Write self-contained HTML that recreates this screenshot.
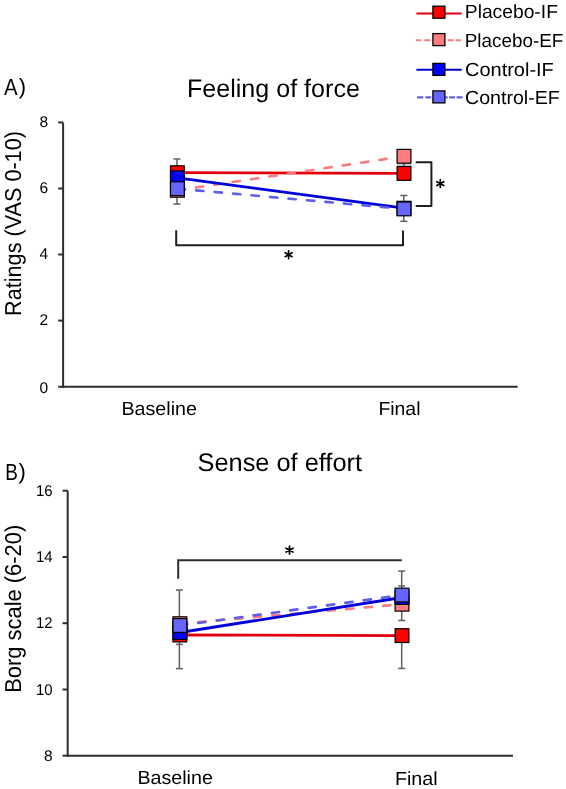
<!DOCTYPE html>
<html><head><meta charset="utf-8">
<style>
html,body{margin:0;padding:0;background:#fff;}
body{width:566px;height:789px;overflow:hidden;}
svg{display:block;will-change:transform;}
text{font-family:"Liberation Sans",sans-serif;fill:#000;text-rendering:geometricPrecision;}
</style></head>
<body>
<svg width="566" height="789" viewBox="0 0 566 789">
<rect x="0" y="0" width="566" height="789" fill="#fff"/>

<!-- Legend -->
<g>
  <line x1="416.4" y1="13.6" x2="461.7" y2="13.6" stroke="#E2000C" stroke-width="2"/>
  <path d="M415.8,40.2H421.1M424.3,40.2H430.1M447.6,40.2H453.5M455.6,40.2H460.9" stroke="#F77A80" stroke-width="2.1"/>
  <line x1="416.4" y1="69.8" x2="461.7" y2="69.8" stroke="#0000DA" stroke-width="2"/>
  <path d="M417.2,97.4H423.3M425.4,97.4H431.2M445.5,97.4H447.6M449.2,97.4H455M456.6,97.4H462.5" stroke="#5E5EEA" stroke-width="2.1"/>
  <g stroke="#000" stroke-width="1.3">
  <rect x="432.9" y="6.2" width="12" height="12" fill="#FF0000"/>
  <rect x="432.9" y="33.6" width="12" height="12" fill="#FF7C80"/>
  <rect x="432.9" y="63.4" width="12" height="12" fill="#0000FF"/>
  <rect x="432.9" y="90.9" width="12" height="12" fill="#6666FF"/>
  </g>
  <text x="464.8" y="17.8" font-size="19" textLength="93.1" lengthAdjust="spacingAndGlyphs">Placebo-IF</text>
  <text x="464.8" y="46.8" font-size="19" textLength="98.5" lengthAdjust="spacingAndGlyphs">Placebo-EF</text>
  <text x="465" y="76.0" font-size="19" textLength="88.8" lengthAdjust="spacingAndGlyphs">Control-IF</text>
  <text x="465" y="103.8" font-size="19" textLength="94.8" lengthAdjust="spacingAndGlyphs">Control-EF</text>
</g>

<!-- Chart A -->
<text x="3.9" y="94.7" font-size="23.3" textLength="13.6" lengthAdjust="spacingAndGlyphs">A</text><text x="18.8" y="93.5" font-size="22">)</text>
<text x="187" y="97.3" font-size="25.3" textLength="172.9" lengthAdjust="spacingAndGlyphs">Feeling of force</text>
<text transform="translate(21.2,315.9) rotate(-90)" font-size="23" textLength="184.8" lengthAdjust="spacingAndGlyphs">Ratings (VAS 0-10)</text>

<g fill="none" stroke="#2e2e2e" stroke-width="2">
  <line x1="63.1" y1="122.4" x2="63.1" y2="387.7"/>
  <line x1="62.1" y1="386.75" x2="517.6" y2="386.75"/>
  <line x1="58.2" y1="122.4" x2="63.1" y2="122.4"/>
  <line x1="58.2" y1="188.5" x2="63.1" y2="188.5"/>
  <line x1="58.2" y1="254.5" x2="63.1" y2="254.5"/>
  <line x1="58.2" y1="320.6" x2="63.1" y2="320.6"/>
  <line x1="58.2" y1="386.75" x2="63.1" y2="386.75"/>
</g>
<g font-size="15.5">
  <text x="39.5" y="126.8">8</text>
  <text x="39.5" y="193.2">6</text>
  <text x="39.5" y="259.2">4</text>
  <text x="39.5" y="325.3">2</text>
  <text x="39.5" y="392.5">0</text>
</g>
<text x="121.5" y="415" font-size="19" textLength="75.4" lengthAdjust="spacingAndGlyphs">Baseline</text>
<text x="378.4" y="415.2" font-size="19" textLength="42.1" lengthAdjust="spacingAndGlyphs">Final</text>

<g fill="none" stroke="#1f1f1f" stroke-width="2" stroke-linejoin="round">
  <polyline points="176.2,230.3 176.2,245.2 403,245.2 403,230.5"/>
  <polyline points="415.7,162.2 431.4,162.2 431.4,205.9 415.7,205.9"/>
</g>

<g fill="none" stroke="#5e5e5e" stroke-width="1.5">
  <line x1="177.0" y1="159" x2="177.0" y2="204.1"/>
  <line x1="173.50" y1="159" x2="180.50" y2="159"/>
  <line x1="173.50" y1="204.1" x2="180.50" y2="204.1"/>
  <line x1="403.8" y1="195.5" x2="403.8" y2="221.3"/>
  <line x1="400.30" y1="195.5" x2="407.30" y2="195.5"/>
  <line x1="400.30" y1="221.3" x2="407.30" y2="221.3"/>
</g>
<rect x="397" y="163.4" width="14.5" height="2.8" fill="#d0d0d0"/>
<line x1="403.8" y1="163" x2="403.8" y2="166.5" stroke="#555" stroke-width="1.4"/>

<line x1="177.4" y1="172.7" x2="404.0" y2="173.4" stroke="#E2000C" stroke-width="2.8"/>
<line x1="177.4" y1="190.3" x2="404.0" y2="156.3" stroke="#F77A80" stroke-width="2.6" stroke-dasharray="7.35 11.2" stroke-dashoffset="-0.2" stroke-linecap="round"/>
<line x1="177.4" y1="177.8" x2="404.0" y2="208.2" stroke="#0000DA" stroke-width="2.8"/>
<line x1="177.4" y1="188.7" x2="404.0" y2="208.9" stroke="#5E5EEA" stroke-width="2.6" stroke-dasharray="7.35 11.2" stroke-dashoffset="-0.2" stroke-linecap="round"/>

<g stroke="#000" stroke-width="1.2">
  <rect x="170.50" y="165.80" width="13.80" height="13.80" fill="#FF0000"/>
  <rect x="170.50" y="183.40" width="13.80" height="13.80" fill="#FF7C80"/>
  <rect x="170.50" y="170.90" width="13.80" height="13.80" fill="#0000FF"/>
  <rect x="170.50" y="181.80" width="13.80" height="13.80" fill="#6666FF"/>
  <rect x="397.10" y="166.50" width="13.80" height="13.80" fill="#FF0000"/>
  <rect x="397.10" y="149.40" width="13.80" height="13.80" fill="#FF7C80"/>
  <rect x="397.10" y="201.30" width="13.80" height="13.80" fill="#0000FF"/>
  <rect x="397.10" y="202.00" width="13.80" height="13.80" fill="#6666FF"/>
</g>

<!-- Chart B -->
<text x="5.3" y="479.7" font-size="23.3" textLength="12.6" lengthAdjust="spacingAndGlyphs">B</text><text x="18.6" y="478.9" font-size="22">)</text>
<text x="197.5" y="470.6" font-size="25.3" textLength="164.5" lengthAdjust="spacingAndGlyphs">Sense of effort</text>
<text transform="translate(21.2,692.8) rotate(-90)" font-size="23" textLength="168" lengthAdjust="spacingAndGlyphs">Borg scale (6-20)</text>

<g fill="none" stroke="#2e2e2e" stroke-width="2">
  <line x1="67.7" y1="490.7" x2="67.7" y2="756.7"/>
  <line x1="66.7" y1="755.7" x2="513" y2="755.7"/>
  <line x1="62.5" y1="490.7" x2="67.7" y2="490.7"/>
  <line x1="62.5" y1="557" x2="67.7" y2="557"/>
  <line x1="62.5" y1="623.2" x2="67.7" y2="623.2"/>
  <line x1="62.5" y1="689.5" x2="67.7" y2="689.5"/>
  <line x1="62.5" y1="755.7" x2="67.7" y2="755.7"/>
</g>
<g font-size="15.5">
  <text x="36" y="495.7" textLength="16.6" lengthAdjust="spacingAndGlyphs">16</text>
  <text x="36" y="562" textLength="16.6" lengthAdjust="spacingAndGlyphs">14</text>
  <text x="36" y="628.2" textLength="16.6" lengthAdjust="spacingAndGlyphs">12</text>
  <text x="36" y="694.5" textLength="16.6" lengthAdjust="spacingAndGlyphs">10</text>
  <text x="44" y="760.7">8</text>
</g>
<text x="137.4" y="784.4" font-size="19" textLength="75.5" lengthAdjust="spacingAndGlyphs">Baseline</text>
<text x="394.9" y="784.7" font-size="19" textLength="42.7" lengthAdjust="spacingAndGlyphs">Final</text>

<polyline points="178.2,578.8 178.2,560.2 401.8,560.2" fill="none" stroke="#2e2e2e" stroke-width="2"/>

<g fill="none" stroke="#5e5e5e" stroke-width="1.5">
  <line x1="179.4" y1="590" x2="179.4" y2="668.6"/>
  <line x1="175.90" y1="590" x2="182.90" y2="590"/>
  <line x1="175.90" y1="644.4" x2="182.90" y2="644.4"/>
  <line x1="175.90" y1="668.6" x2="182.90" y2="668.6"/>
  <line x1="401.7" y1="571.1" x2="401.7" y2="620.5"/>
  <line x1="398.20" y1="571.1" x2="405.20" y2="571.1"/>
  <line x1="398.20" y1="586" x2="405.20" y2="586"/>
  <line x1="398.20" y1="620.5" x2="405.20" y2="620.5"/>
  <line x1="401.7" y1="640" x2="401.7" y2="668.4"/>
  <line x1="398.20" y1="668.4" x2="405.20" y2="668.4"/>
</g>

<line x1="179.9" y1="635.0" x2="402.0" y2="635.6" stroke="#E2000C" stroke-width="2.8"/>
<line x1="179.9" y1="623.7" x2="402.0" y2="604.2" stroke="#F77A80" stroke-width="2.6" stroke-dasharray="7.35 11.2" stroke-dashoffset="0" stroke-linecap="round"/>
<line x1="179.9" y1="632.5" x2="402.0" y2="597.5" stroke="#0000DA" stroke-width="2.8"/>
<line x1="179.9" y1="625.5" x2="402.0" y2="595.1" stroke="#5E5EEA" stroke-width="2.6" stroke-dasharray="7.35 11.2" stroke-dashoffset="0" stroke-linecap="round"/>

<g stroke="#000" stroke-width="1.2">
  <rect x="173.00" y="628.10" width="13.80" height="13.80" fill="#FF0000"/>
  <rect x="173.00" y="616.80" width="13.80" height="13.80" fill="#FF7C80"/>
  <rect x="173.00" y="625.60" width="13.80" height="13.80" fill="#0000FF"/>
  <rect x="173.00" y="618.60" width="13.80" height="13.80" fill="#6666FF"/>
  <rect x="395.10" y="628.70" width="13.80" height="13.80" fill="#FF0000"/>
  <rect x="395.10" y="597.30" width="13.80" height="13.80" fill="#FF7C80"/>
  <rect x="395.10" y="590.60" width="13.80" height="13.80" fill="#0000FF"/>
  <rect x="395.10" y="588.20" width="13.80" height="13.80" fill="#6666FF"/>
</g>

<g stroke="#000" stroke-width="1.7" stroke-linecap="round" fill="none">
  <g transform="translate(288.6,254.7)"><path d="M0,-3.9V3.9M-3.45,-1.95L3.45,1.95M-3.45,1.95L3.45,-1.95"/><circle cx="0" cy="0" r="1.1" fill="#000" stroke="none"/></g>
  <g transform="translate(440.3,183.6)"><path d="M0,-3.9V3.9M-3.45,-1.95L3.45,1.95M-3.45,1.95L3.45,-1.95"/><circle cx="0" cy="0" r="1.1" fill="#000" stroke="none"/></g>
  <g transform="translate(289.5,550.1)"><path d="M0,-3.9V3.9M-3.45,-1.95L3.45,1.95M-3.45,1.95L3.45,-1.95"/><circle cx="0" cy="0" r="1.1" fill="#000" stroke="none"/></g>
</g>
</svg>
</body></html>
